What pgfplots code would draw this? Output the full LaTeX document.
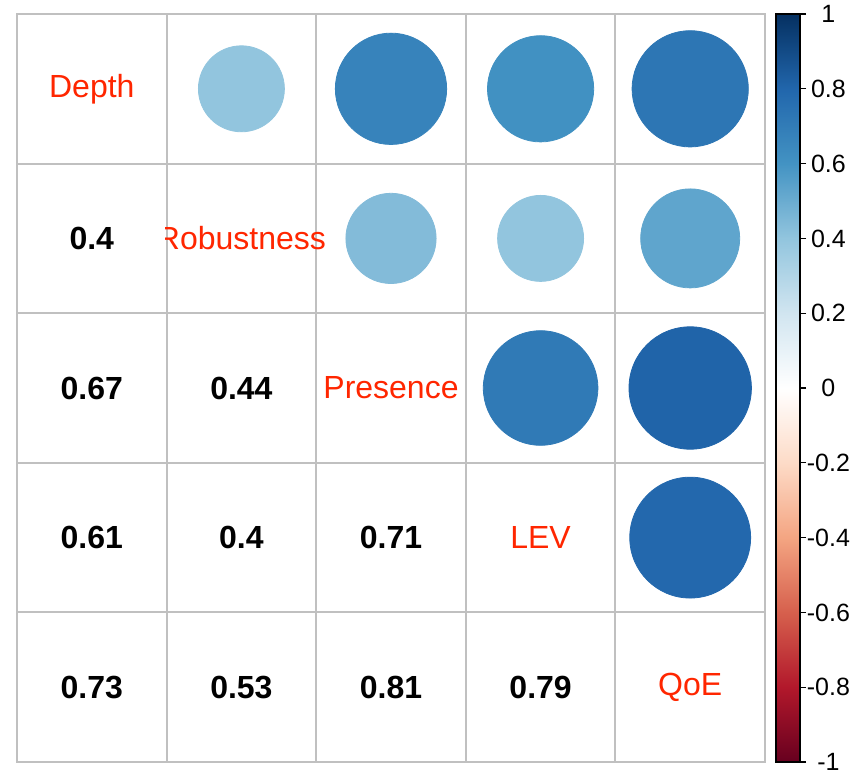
\documentclass[border=0pt]{standalone}
\usepackage{fontspec}
\setmainfont{Liberation Sans}
\usepackage{pgfplots}
\pgfplotsset{compat=1.18}
\definecolor{gridgray}{RGB}{192,192,192}
\definecolor{labred}{RGB}{255,38,0}
\begin{document}
\begin{tikzpicture}
\useasboundingbox (-8.5pt,-4pt) rectangle (424pt,381pt);
\begin{axis}[
  scale only axis, width=374pt, height=374pt,
  xmin=0.5, xmax=5.5, ymin=0.5, ymax=5.5,
  xtick={0.5,1.5,2.5,3.5,4.5,5.5}, ytick={0.5,1.5,2.5,3.5,4.5,5.5},
  xticklabels={}, yticklabels={},
  grid=major, major grid style={gridgray, line width=1pt},
  axis line style={gridgray, line width=1pt},
  major tick length=0pt,
  axis on top,
  colormap={RdBu}{rgb255=(103,0,31) rgb255=(178,24,43) rgb255=(214,96,77) rgb255=(244,165,130) rgb255=(253,219,199) rgb255=(255,255,255) rgb255=(209,229,240) rgb255=(146,197,222) rgb255=(67,147,195) rgb255=(33,102,172) rgb255=(5,48,97)},
  point meta min=-1, point meta max=1,
  colorbar,
  colorbar shift/.style={xshift=5.5pt},
  colorbar style={
    width=12pt,
    at={(parent axis.north east)}, anchor=north west,
    ytick={-1,-0.8,-0.6,-0.4,-0.2,0,0.2,0.4,0.6,0.8,1},
    yticklabels={-1,-0.8,-0.6,-0.4,-0.2,0,0.2,0.4,0.6,0.8,1},
    axis line style={black, line width=0.8pt},
    ytick pos=right,
    major tick length=3pt, tick align=outside, tick style={black, line width=0.6pt},
    yticklabel style={font=\fontsize{12.5}{14}\selectfont, text width=24pt, align=center, inner sep=0pt, xshift=-1pt},
  },
]
% circles (upper triangle)
\addplot[scatter, only marks, mark=*, point meta=explicit,
  scatter/use mapped color={draw=mapped color, fill=mapped color},
  visualization depends on={34*sqrt(\thisrow{r}) \as \rad},
  scatter/@pre marker code/.append style={/tikz/mark size=\rad}]
  table[x=x, y=y, meta=r]{
x y r
2 5 0.40
3 5 0.67
4 5 0.61
5 5 0.73
3 4 0.44
4 4 0.40
5 4 0.53
4 3 0.71
5 3 0.81
5 2 0.79
};
% diagonal labels
\addplot[only marks, mark=none, nodes near coords, point meta=explicit symbolic,
  every node near coord/.append style={font=\fontsize{16}{18}\selectfont, text=labred, anchor=center}]
  table[x=x, y=y, meta=lab]{
x y lab
1 5 Depth
2 4 Robustness
3 3 Presence
4 2 LEV
5 1 QoE
};
% numbers (lower triangle), each on a white cell
\addplot[only marks, mark=none, nodes near coords, point meta=explicit symbolic,
  every node near coord/.append style={font=\fontsize{16}{18}\selectfont\bfseries, text=black, anchor=center,
    fill=white, minimum width=73.5pt, minimum height=73.5pt, inner sep=0pt}]
  table[x=x, y=y, meta=lab]{
x y lab
1 4 0.4
1 3 0.67
2 3 0.44
1 2 0.61
2 2 0.4
3 2 0.71
1 1 0.73
2 1 0.53
3 1 0.81
4 1 0.79
};
\end{axis}
\end{tikzpicture}
\end{document}
